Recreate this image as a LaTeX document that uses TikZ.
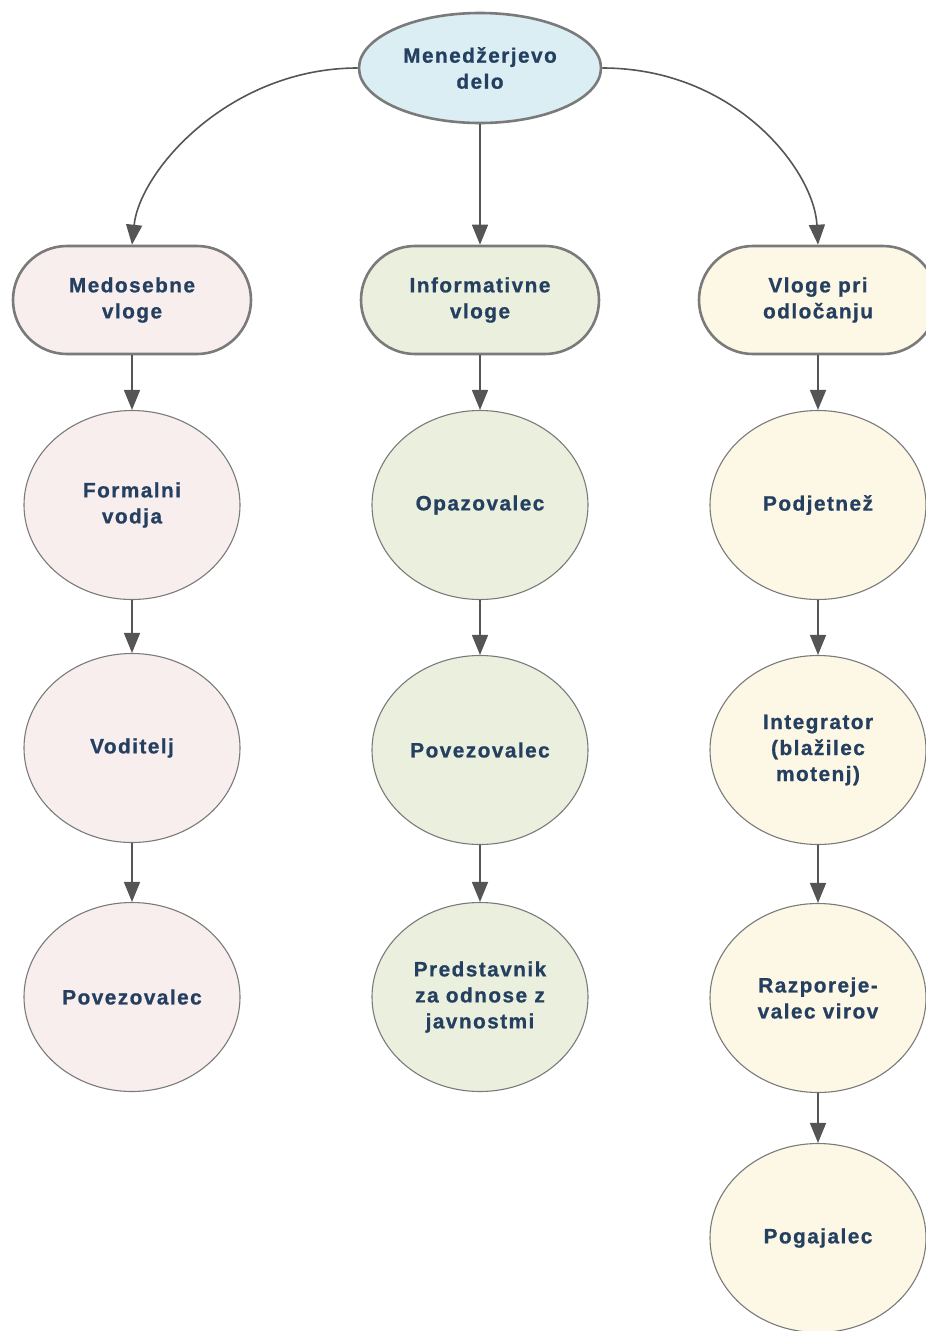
\documentclass[tikz,border=0pt]{standalone}
\usepackage{fontspec}
\setmainfont{Liberation Sans}[LetterSpace=7, BoldFeatures={FakeBold=0.8}]
\usetikzlibrary{arrows.meta,shapes.geometric}

\definecolor{txt}{HTML}{243F60}
\definecolor{edge}{HTML}{555555}
\definecolor{rim}{HTML}{7A7A7A}
\definecolor{blueF}{HTML}{DBEEF3}
\definecolor{pinkF}{HTML}{F8EEEE}
\definecolor{greenF}{HTML}{EBF0DE}
\definecolor{yellowF}{HTML}{FDF7E5}

\tikzset{
  label/.style={font=\fontsize{20.8}{26}\selectfont\bfseries, text=txt, align=center, inner sep=0pt},
  rootnode/.style={label, ellipse, draw=rim, line width=2.6pt, minimum width=242pt, minimum height=110pt},
  groupbox/.style={label, rectangle, rounded corners=54pt, draw=rim, line width=2.6pt, minimum width=238pt, minimum height=108pt},
  rolenode/.style={label, ellipse, draw=rim, line width=1.1pt, minimum width=216pt, minimum height=189pt},
  link/.style={draw=edge, line width=1.6pt, -{Triangle[length=20pt,width=16pt]}}
}

\begin{document}
\begin{tikzpicture}[x=1pt, y=-1pt]
\useasboundingbox (0,0) rectangle (926,1331);

% root
\node[rootnode, fill=blueF] (root) at (480,68) {Menedžerjevo\\delo};

% three groups of roles
\node[groupbox, fill=pinkF]   (g1) at (132,300) {Medosebne\\vloge};
\node[groupbox, fill=greenF]  (g2) at (480,300) {Informativne\\vloge};
\node[groupbox, fill=yellowF] (g3) at (818,300) {Vloge pri\\odločanju};

% interpersonal roles
\node[rolenode, fill=pinkF] (a1) at (132,505) {Formalni\\vodja};
\node[rolenode, fill=pinkF] (a2) at (132,748) {Voditelj};
\node[rolenode, fill=pinkF] (a3) at (132,997) {Povezovalec};

% informational roles
\node[rolenode, fill=greenF] (b1) at (480,505) {Opazovalec};
\node[rolenode, fill=greenF] (b2) at (480,750) {Povezovalec};
\node[rolenode, fill=greenF] (b3) at (480,997) {Predstavnik\\za odnose z\\javnostmi};

% decisional roles
\node[rolenode, fill=yellowF] (c1) at (818,505) {Podjetnež};
\node[rolenode, fill=yellowF] (c2) at (818,750) {Integrator\\(blažilec\\motenj)};
\node[rolenode, fill=yellowF] (c3) at (818,998) {Razporeje-\\valec virov};
\node[rolenode, fill=yellowF] (c4) at (818,1238) {Pogajalec};

% connectors from the root
\draw[link] (root.west) .. controls (230,68) and (140,170) .. (g1.north);
\draw[link] (root.south) -- (g2.north);
\draw[link] (root.east) .. controls (735,68) and (814,170) .. (g3.north);

% columns
\draw[link] (g1.south) -- (a1.north);
\draw[link] (a1.south) -- (a2.north);
\draw[link] (a2.south) -- (a3.north);

\draw[link] (g2.south) -- (b1.north);
\draw[link] (b1.south) -- (b2.north);
\draw[link] (b2.south) -- (b3.north);

\draw[link] (g3.south) -- (c1.north);
\draw[link] (c1.south) -- (c2.north);
\draw[link] (c2.south) -- (c3.north);
\draw[link] (c3.south) -- (c4.north);
\end{tikzpicture}
\end{document}
